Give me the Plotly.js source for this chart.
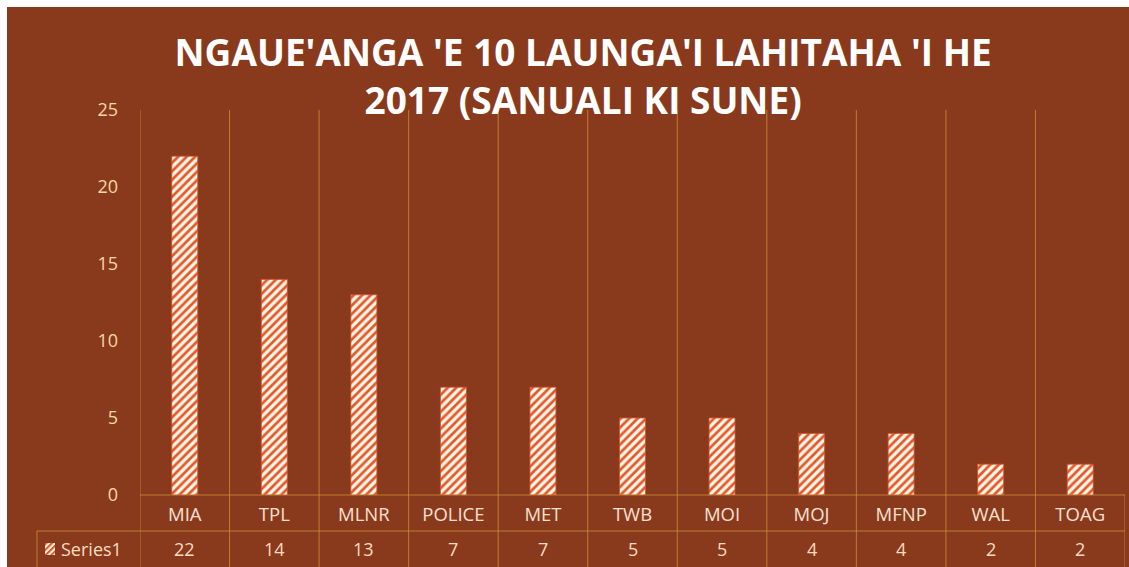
<!DOCTYPE html>
<html>
<head>
<meta charset="utf-8">
<script src="https://cdn.plot.ly/plotly-3.0.1.min.js"></script>
<style>
  html, body { margin: 0; padding: 0; background: #ffffff; width: 1129px; height: 567px; overflow: hidden; }
  #chart { position: absolute; left: 7px; top: 7px; width: 1122px; height: 560px; }
</style>
</head>
<body>
<div id="chart"></div>
<script>
const categories = ['MIA', 'TPL', 'MLNR', 'POLICE', 'MET', 'TWB', 'MOI', 'MOJ', 'MFNP', 'WAL', 'TOAG'];
const values = [22, 14, 13, 7, 7, 5, 5, 4, 4, 2, 2];
const yTicks = [0, 5, 10, 15, 20, 25];
const seriesName = 'Series1';
const titleText = "NGAUE'ANGA 'E 10 LAUNGA'I LAHITAHA 'I HE<br>2017 (SANUALI KI SUNE)";

const BG = '#8a3a1c';
const GRID = 'rgba(212,152,60,0.7)';
const STRIPE = '#de5a2c';
const STRIPE_BG = '#fff4e6';
const FONT = 'Open Sans, DejaVu Sans, sans-serif';

const n = categories.length;
const tableRowY = -0.0935;   // line between label row and value row (paper)
const tableBottom = -0.19;
const tableLeft = -0.1046;
const valueRowY = -0.14;

const shapes = [];
// vertical column separators
for (let i = 0; i <= n; i++) {
  shapes.push({
    type: 'line', xref: 'x', yref: 'paper',
    x0: i - 0.5, x1: i - 0.5,
    y0: i === n ? 0 : 1, y1: tableBottom,
    line: { color: GRID, width: 1 }
  });
}
// baseline
shapes.push({ type: 'line', xref: 'x', yref: 'paper', x0: -0.5, x1: n - 0.5, y0: 0, y1: 0, line: { color: GRID, width: 1 } });
// table row line
shapes.push({ type: 'line', xref: 'paper', yref: 'paper', x0: tableLeft, x1: 1, y0: tableRowY, y1: tableRowY, line: { color: GRID, width: 1 } });
// table left border
shapes.push({ type: 'line', xref: 'paper', yref: 'paper', x0: tableLeft, x1: tableLeft, y0: tableRowY, y1: tableBottom, line: { color: GRID, width: 1 } });

const annotations = values.map((v, i) => ({
  x: categories[i], y: valueRowY, xref: 'x', yref: 'paper',
  text: String(v), showarrow: false,
  xanchor: 'center', yanchor: 'middle',
  font: { family: FONT, size: 18, color: '#f7dcc0' }
}));
annotations.push({
  x: -0.0822, y: valueRowY, xref: 'paper', yref: 'paper',
  text: seriesName, showarrow: false, xanchor: 'left', yanchor: 'middle',
  font: { family: FONT, size: 18, color: '#f7dcc0' }
});

const iconSvg = '<svg xmlns="http://www.w3.org/2000/svg" width="10" height="12" viewBox="0 0 10 12">' +
  '<defs><pattern id="p" width="4" height="4" patternUnits="userSpaceOnUse" patternTransform="rotate(45)">' +
  '<rect width="4" height="4" fill="' + STRIPE_BG + '"/><rect width="2" height="4" fill="' + STRIPE + '"/></pattern></defs>' +
  '<rect width="10" height="12" fill="url(#p)"/></svg>';

const trace = {
  type: 'bar',
  name: seriesName,
  x: categories,
  y: values,
  width: 0.29,
  marker: {
    color: STRIPE,
    line: { color: '#d8502a', width: 0.8 },
    pattern: { shape: '/', fgcolor: STRIPE, bgcolor: STRIPE_BG, size: 6, solidity: 0.45, fillmode: 'replace' }
  },
  hoverinfo: 'x+y'
};

const layout = {
  width: 1122, height: 560,
  paper_bgcolor: BG, plot_bgcolor: BG,
  margin: { l: 133, r: 4, t: 103, b: 72 },
  showlegend: false,
  title: {
    text: titleText,
    x: 0.5135, xanchor: 'center',
    y: 0.894, yanchor: 'top',
    font: { family: FONT, size: 37, color: '#ffffff', weight: 'bold' }
  },
  xaxis: {
    type: 'category',
    range: [-0.5, n - 0.5],
    showgrid: false, zeroline: false, showline: false,
    ticks: '', ticklabelstandoff: 6,
    tickfont: { family: FONT, size: 18.5, color: '#f7e0d2' }
  },
  yaxis: {
    range: [0, 25],
    tickmode: 'array', tickvals: yTicks,
    showgrid: false, zeroline: false, showline: false,
    ticks: '', ticklabelstandoff: 21,
    tickfont: { family: FONT, size: 18, color: '#f5d7a4' }
  },
  shapes: shapes,
  annotations: annotations,
  images: [{
    source: 'data:image/svg+xml;utf8,' + encodeURIComponent(iconSvg),
    xref: 'paper', yref: 'paper',
    x: -0.0964, y: -0.1247, sizex: 0.01015, sizey: 0.0312,
    xanchor: 'left', yanchor: 'top', sizing: 'stretch', layer: 'above'
  }]
};

Plotly.newPlot('chart', [trace], layout, { displayModeBar: false, staticPlot: true });
</script>
</body>
</html>
